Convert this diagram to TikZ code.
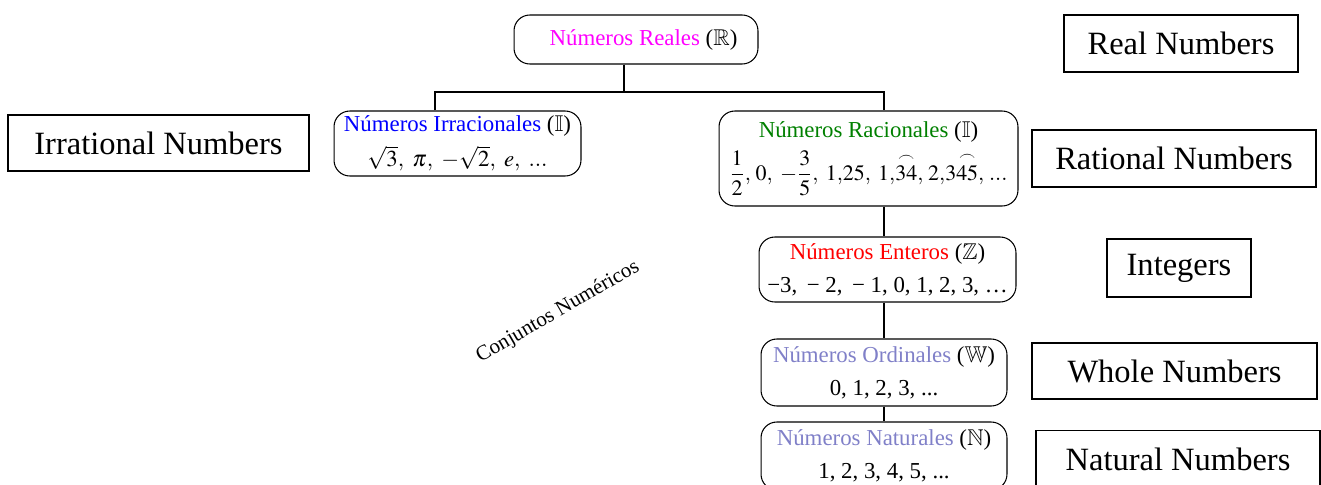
\documentclass[tikz,border=0pt]{standalone}
\usepackage{amsmath,amssymb}
\usepackage{mathptmx}
\usepackage[no-math]{fontspec}
\setmainfont{Liberation Serif}
\usepackage{xcolor}

% colores de los conjuntos
\definecolor{rosa}{RGB}{255,0,255}
\definecolor{azul}{RGB}{0,0,255}
\definecolor{verde}{RGB}{0,128,0}
\definecolor{rojo}{RGB}{255,0,0}
\definecolor{lila}{RGB}{128,128,200}

\tikzset{
    caja/.style={draw, rounded corners=9pt, line width=0.6pt, align=center,
        inner sep=0pt, font=\fontsize{13}{19}\selectfont},
    etiqueta/.style={draw, line width=1pt, inner sep=0pt,
        font=\fontsize{18.5}{22}\selectfont}
}

\begin{document}
\begin{tikzpicture}[x=0.02cm, y=-0.02cm]

    \useasboundingbox (0,0) rectangle (1321,484);

    % Conjuntos
    \node[caja, minimum width=4.88cm, minimum height=0.98cm] (reales) at (636,39.5)
        {\hspace{0.3cm}\textcolor{rosa}{Números Reales} ($\mathbb{R}$)};
    \node[caja, minimum width=4.94cm, minimum height=1.3cm] (irracionales) at (457.5,143.5)
        {\textcolor{azul}{Números Irracionales} ($\mathbb{I}$)\\[1pt]
         $\sqrt{3},\ \pi,\ -\sqrt{2},\ e,\ ...$};
    \node[caja, minimum width=5.98cm, minimum height=1.9cm] (racionales) at (868.5,158.5)
        {\textcolor{verde}{Números Racionales} ($\mathbb{I}$)\\[4pt]
         \fontsize{12.5}{15}\selectfont
         $\dfrac{1}{2},\, 0,\; -\dfrac{3}{5},\; 1{,}25,\; 1{,}\overset{\frown}{34},\, 2{,}3\overset{\frown}{45},\, ...$};
    \node[caja, minimum width=5.14cm, minimum height=1.3cm] (enteros) at (887.5,269.5)
        {\textcolor{rojo}{Números Enteros} ($\mathbb{Z}$)\\
         −3,\ \,− 2,\ \,− 1, 0,\ 1, 2, 3, …};
    \node[caja, minimum width=4.92cm, minimum height=1.34cm] (ordinales) at (884,372.5)
        {\textcolor{lila}{Números Ordinales} ($\mathbb{W}$)\\
         0,\ 1, 2, 3, ...};
    \node[caja, minimum width=4.92cm, minimum height=1.36cm] (naturales) at (884,456)
        {\textcolor{lila}{Números Naturales} ($\mathbb{N}$)\\
         1, 2, 3, 4, 5, ...};

    % Nombres en ingles
    \node[etiqueta, minimum width=4.68cm, minimum height=1.14cm] (lreal) at (1181,43.5) {Real Numbers};
    \node[etiqueta, minimum width=6.02cm, minimum height=1.12cm] (lirracional) at (158.5,143) {Irrational Numbers};
    \node[etiqueta, minimum width=5.68cm, minimum height=1.14cm] (lracional) at (1174,158.5) {Rational Numbers};
    \node[etiqueta, minimum width=2.88cm, minimum height=1.16cm] (lentero) at (1179,268) {Integers};
    \node[etiqueta, minimum width=5.7cm, minimum height=1.12cm] (lordinal) at (1174.5,371) {Whole Numbers};
    \node[etiqueta, minimum width=5.68cm, minimum height=1.14cm] (lnatural) at (1178,459) {Natural Numbers};

    % titulo inclinado
    \node[rotate=30, font=\fontsize{12}{14}\selectfont] (titulo) at (558,312) {Conjuntos Numéricos};

    % ramas del arbol
    \coordinate (rama) at (624,92);
    \coordinate (bi) at (435,92);
    \coordinate (bd) at (884,92);
    \draw[line width=0.6pt] (rama |- reales.south) -- (rama);
    \draw[line width=0.6pt] (bi |- irracionales.north) -- (bi) -- (bd) -- (bd |- racionales.north);
    \draw[line width=0.6pt] (bd |- racionales.south) -- (bd |- enteros.north);
    \draw[line width=0.6pt] (bd |- enteros.south) -- (bd |- ordinales.north);
    \draw[line width=0.6pt] (bd |- ordinales.south) -- (bd |- naturales.north);

\end{tikzpicture}
\end{document}
